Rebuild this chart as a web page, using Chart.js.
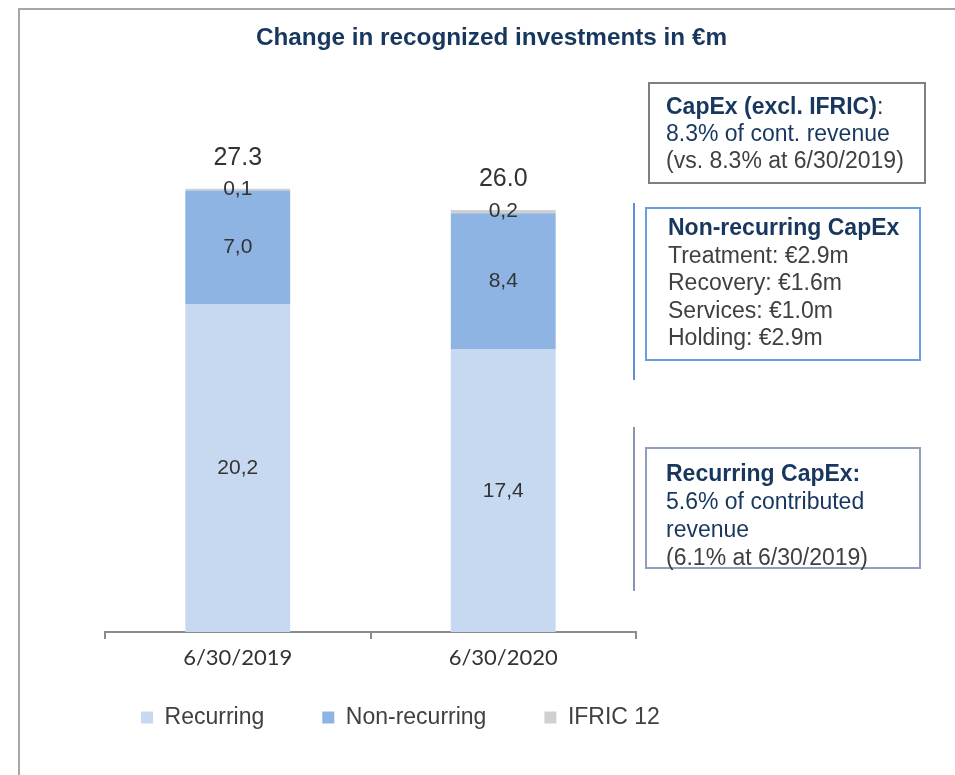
<!DOCTYPE html>
<html lang="en">
<head>
    <meta charset="UTF-8">
    <title>Change in recognized investments</title>
    <script src="https://cdn.jsdelivr.net/npm/chart.js"></script>
    <style>
        body {
            margin: 0;
            background: #fff;
            font-family: "Liberation Sans", Arial, sans-serif;
        }
        .page {
            position: relative;
            width: 955px;
            height: 775px;
            overflow: hidden;
        }
        .frame {
            position: absolute;
            left: 18px;
            top: 8px;
            width: 960px;
            height: 800px;
            border-left: 2px solid #a6a6a6;
            border-top: 2px solid #a6a6a6;
        }
        .chart-box {
            position: absolute;
            left: 0;
            top: 0;
            width: 955px;
            height: 775px;
        }
        .title {
            position: absolute;
            left: 0;
            width: 983px;
            top: 23px;
            text-align: center;
            font-weight: bold;
            font-size: 24.3px;
            color: #17375e;
        }
        .note {
            position: absolute;
            box-sizing: border-box;
            font-size: 23px;
            color: #404040;
            white-space: nowrap;
        }
        .note b, .note .navy { color: #17375e; }
        .bar-line {
            position: absolute;
            width: 2px;
        }
    </style>
</head>
<body>
<div class="page">
    <div class="frame"></div>
    <div class="chart-box"><canvas id="capexChart"></canvas></div>
    <div class="title">Change in recognized investments in €m</div>

    <div class="note" style="left:648px; top:82px; width:278px; height:102px; border:2px solid #7f7f7f; padding:9px 0 0 16px; line-height:27px;">
        <b>CapEx (excl. IFRIC)</b><span class="navy">:</span><br>
        <span class="navy">8.3% of cont. revenue</span><br>
        (vs. 8.3% at 6/30/2019)
    </div>

    <div class="bar-line" style="left:633px; top:203px; height:177px; background:#5b8fd6;"></div>
    <div class="note" style="left:645px; top:207px; width:276px; height:154px; border:2px solid #6a9ee0; padding:5px 0 0 21px; line-height:27.5px;">
        <b>Non-recurring CapEx</b><br>
        Treatment: €2.9m<br>
        Recovery: €1.6m<br>
        Services: €1.0m<br>
        Holding: €2.9m
    </div>

    <div class="bar-line" style="left:633px; top:427px; height:164px; background:#8496b0;"></div>
    <div class="note" style="left:645px; top:447px; width:276px; height:122px; border:2px solid #8ea0bb; padding:10px 0 0 19px; line-height:28px;">
        <b>Recurring CapEx:</b><br>
        <span class="navy">5.6% of contributed</span><br>
        <span class="navy">revenue</span><br>
        (6.1% at 6/30/2019)
    </div>
</div>

<script>
    // Data
    const categories = ['6/30/2019', '6/30/2020'];
    const recurring = [20.2, 17.4];
    const nonRecurring = [7.0, 8.4];
    const ifric12 = [0.1, 0.2];

    // Draws segment values inside the bars and totals above them
    const valueLabels = {
        id: 'valueLabels',
        afterDatasetsDraw(chart) {
            const ctx = chart.ctx;
            ctx.save();
            ctx.fillStyle = '#333333';
            ctx.textAlign = 'center';
            ctx.textBaseline = 'middle';
            ctx.font = '21px "Liberation Sans", Arial, sans-serif';
            chart.data.datasets.forEach((ds, i) => {
                chart.getDatasetMeta(i).data.forEach((bar, j) => {
                    const y = (bar.y + bar.base) / 2;
                    ctx.fillText(ds.data[j].toFixed(1).replace('.', ','), bar.x, y);
                });
            });

            ctx.font = '25px "Liberation Sans", Arial, sans-serif';
            const yScale = chart.scales.y;
            const bars = chart.getDatasetMeta(0).data;
            categories.forEach((c, j) => {
                const total = recurring[j] + nonRecurring[j] + ifric12[j];
                ctx.fillText(total.toFixed(1), bars[j].x, yScale.getPixelForValue(total) - 31);
            });
            ctx.restore();
        }
    };

    const ctx = document.getElementById('capexChart').getContext('2d');
    const chart = new Chart(ctx, {
        type: 'bar',
        data: {
            labels: categories,
            datasets: [
                { label: 'Recurring', data: recurring, backgroundColor: '#c6d9f1' },
                { label: 'Non-recurring', data: nonRecurring, backgroundColor: '#8eb4e3' },
                { label: 'IFRIC 12', data: ifric12, backgroundColor: '#d0d0d0' }
            ]
        },
        options: {
            responsive: true,
            maintainAspectRatio: false,
            animation: false,
            datasets: {
                bar: { categoryPercentage: 1, barPercentage: 0.395 }
            },
            layout: {
                padding: { top: 145, left: 0, right: 154, bottom: 36 }
            },
            plugins: {
                tooltip: { enabled: false },
                legend: {
                    position: 'bottom',
                    labels: {
                        boxWidth: 12,
                        boxHeight: 12,
                        padding: 58,
                        color: '#404040',
                        font: { family: '"Liberation Sans", Arial, sans-serif', size: 23 }
                    }
                }
            },
            scales: {
                x: {
                    stacked: true,
                    grid: {
                        drawOnChartArea: false,
                        tickLength: 7,
                        color: '#8c8c8c',
                        lineWidth: 2
                    },
                    border: { color: '#8c8c8c', width: 2 },
                    ticks: {
                        // mirror keeps the labels from being clipped to the slim axis box,
                        // the negative padding pushes them back below the axis line
                        mirror: true,
                        padding: -39,
                        color: '#333333',
                        font: { family: 'Lato, sans-serif', size: 22 }
                    },
                    afterFit: s => { s.height = 16; }
                },
                y: {
                    stacked: true,
                    min: 0,
                    max: 30,
                    ticks: { display: false },
                    grid: { display: false },
                    border: { display: false },
                    afterFit: s => { s.width = 105; }
                },
                y2: {
                    type: 'linear',
                    position: 'right',
                    ticks: { display: false },
                    grid: { display: false },
                    border: { display: false },
                    afterFit: s => { s.width = 165; }
                }
            }
        },
        plugins: [valueLabels]
    });
</script>
</body>
</html>
